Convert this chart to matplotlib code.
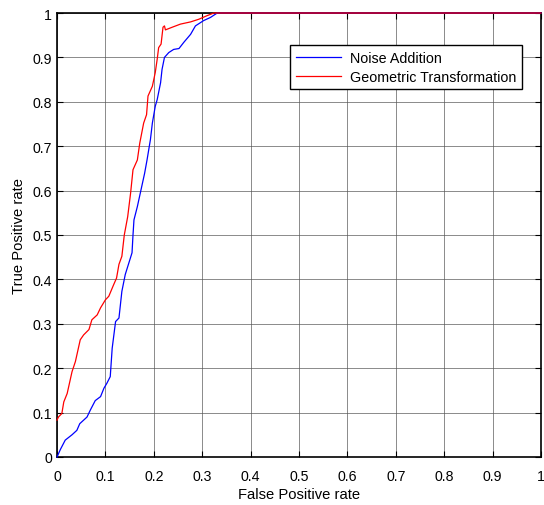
"""ROC curves: noise addition vs geometric transformation."""
import matplotlib
matplotlib.use("Agg")
import matplotlib.pyplot as plt

# curves
noise_fpr = [0, 0.007, 0.017, 0.031, 0.041, 0.047, 0.062, 0.069, 0.079, 0.09, 0.097,
             0.103, 0.11, 0.114, 0.121, 0.128, 0.134, 0.141, 0.155, 0.157, 0.159,
             0.166, 0.172, 0.181, 0.186, 0.193, 0.197, 0.203, 0.207, 0.214, 0.217,
             0.222, 0.231, 0.241, 0.252, 0.262, 0.276, 0.286, 0.303, 0.317, 0.331, 1.0]
noise_tpr = [0, 0.017, 0.038, 0.05, 0.06, 0.075, 0.09, 0.106, 0.127, 0.136, 0.155,
             0.166, 0.181, 0.245, 0.305, 0.313, 0.373, 0.411, 0.46, 0.5, 0.534,
             0.564, 0.594, 0.639, 0.669, 0.715, 0.752, 0.79, 0.805, 0.843, 0.873,
             0.9, 0.911, 0.918, 0.92, 0.934, 0.952, 0.971, 0.983, 0.99, 1.0, 1.0]

geo_fpr = [0, 0.003, 0.01, 0.014, 0.021, 0.031, 0.038, 0.048, 0.055, 0.066, 0.072,
           0.083, 0.09, 0.1, 0.107, 0.117, 0.123, 0.128, 0.134, 0.139, 0.146,
           0.152, 0.157, 0.166, 0.171, 0.179, 0.185, 0.188, 0.197, 0.203, 0.207,
           0.21, 0.215, 0.219, 0.222, 0.224, 0.238, 0.255, 0.276, 0.293, 0.31,
           0.324, 1.0]
geo_tpr = [0.083, 0.09, 0.098, 0.124, 0.143, 0.192, 0.215, 0.264, 0.275, 0.287, 0.309,
           0.32, 0.336, 0.354, 0.362, 0.388, 0.403, 0.434, 0.452, 0.5, 0.541,
           0.594, 0.647, 0.669, 0.707, 0.752, 0.771, 0.813, 0.835, 0.866, 0.896,
           0.922, 0.93, 0.968, 0.971, 0.962, 0.968, 0.975, 0.98, 0.986, 0.994,
           1.0, 1.0]

ticks = [0, 0.1, 0.2, 0.3, 0.4, 0.5, 0.6, 0.7, 0.8, 0.9, 1]
tick_labels = ["0", "0.1", "0.2", "0.3", "0.4", "0.5", "0.6", "0.7", "0.8", "0.9", "1"]

plt.rcParams["font.family"] = ["Liberation Sans", "DejaVu Sans"]
plt.rcParams["font.size"] = 10.3

fig = plt.figure(figsize=(5.44, 5.06), dpi=100)
ax = fig.add_axes([0.1048, 0.0949, 0.8897, 0.8774])

ax.plot(noise_fpr, noise_tpr, color="#0000ff", lw=0.9, label="Noise Addition",
        zorder=3, clip_on=False)
ax.plot(geo_fpr, geo_tpr, color="#ff0000", lw=0.9, label="Geometric Transformation",
        zorder=3.1, clip_on=False)

ax.set_xlim(0, 1); ax.set_ylim(0, 1)
ax.set_xticks(ticks); ax.set_xticklabels(tick_labels)
ax.set_yticks(ticks); ax.set_yticklabels(tick_labels)
ax.tick_params(direction="in", top=True, right=True, length=4, width=0.8,
               labelsize=10.2)
ax.tick_params(axis="x", pad=8.5)
ax.tick_params(axis="y", pad=3.5)
ax.grid(True, color="#555555", lw=0.6, alpha=0.8)
for s in ax.spines.values():
    s.set_linewidth(1.2)
    s.set_zorder(2.9)

ax.set_xlabel("False Positive rate", labelpad=3, fontsize=10.6)
ax.set_ylabel("True Positive rate", labelpad=5, fontsize=10.6)

leg = ax.legend(loc="upper right", bbox_to_anchor=(0.961, 0.928), borderaxespad=0,
                fancybox=False, framealpha=1, edgecolor="black", handlelength=3.2,
                handletextpad=0.6, borderpad=0.4, labelspacing=0.35)
leg.get_frame().set_linewidth(1.0)
leg.set_zorder(5)

fig.savefig("out.png", dpi=100)
